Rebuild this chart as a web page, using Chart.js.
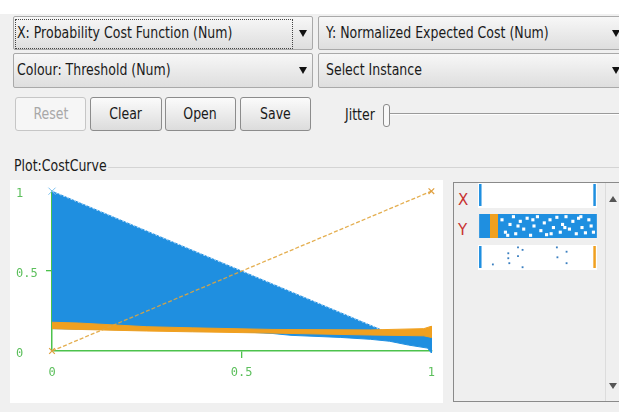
<!DOCTYPE html>
<html>
<head>
<meta charset="utf-8">
<script src="https://cdn.jsdelivr.net/npm/chart.js@4"></script>
<style>
  body { margin: 0; width: 619px; height: 412px; overflow: hidden; background: #f0f0f0;
         font-family: "DejaVu Sans", sans-serif; font-size: 15px; color: #1a1a1a; }
  .abs { position: absolute; }
  .top { left: 0; top: 0; width: 619px; height: 14px; background: #fff; }
  .combo { position: absolute; height: 34px; box-sizing: border-box; border: 1px solid #a9a9a9; border-radius: 2px;
           background: linear-gradient(#f7f7f7, #dedede); line-height: 32px; padding-left: 3px; white-space: nowrap; overflow: hidden; }
  .narrow { display: inline-block; transform: scaleX(0.835); transform-origin: left center; }
  .btn .narrow { transform-origin: center center; }
  .focus { position: absolute; border: 1px dotted #444; }
  .arrow { position: absolute; width: 0; height: 0; border-left: 4px solid transparent; border-right: 4px solid transparent; border-top: 7px solid #111; }
  .btn { position: absolute; top: 97px; height: 34px; box-sizing: border-box; border: 1px solid #8c8c8c; border-radius: 3px;
         background: linear-gradient(#fbfbfb, #dcdcdc); text-align: center; line-height: 32px; }
  .btn.off { color: #a8a8a8; border-color: #c6c6c6; background: #f6f6f6; }
</style>
</head>
<body>
<div class="abs top"></div>

<div class="combo" style="left:13px; top:16px; width:300px;"><span class="narrow">X: Probability Cost Function (Num)</span></div>
<div class="focus" style="left:15px; top:19px; width:276px; height:28px;"></div>
<div class="arrow" style="left:299px; top:30px;"></div>
<div class="combo" style="left:318px; top:16px; width:310px;"><span class="narrow">&nbsp;Y: Normalized Expected Cost (Num)</span></div>
<div class="arrow" style="left:612px; top:30px;"></div>

<div class="combo" style="left:13px; top:53px; width:300px; height:35px;"><span class="narrow">Colour: Threshold (Num)</span></div>
<div class="arrow" style="left:299px; top:67px;"></div>
<div class="combo" style="left:318px; top:53px; width:310px; height:35px;"><span class="narrow">&nbsp;Select Instance</span></div>
<div class="arrow" style="left:612px; top:67px;"></div>

<div class="btn off" style="left:15px; width:71px;"><span class="narrow">Reset</span></div>
<div class="btn" style="left:90px; width:72px;"><span class="narrow">Clear</span></div>
<div class="btn" style="left:165px; width:71px;"><span class="narrow">Open</span></div>
<div class="btn" style="left:240px; width:71px;"><span class="narrow">Save</span></div>

<div class="abs" style="left:345px; top:105px; line-height:20px;"><span class="narrow">Jitter</span></div>
<div class="abs" style="left:389px; top:113px; width:240px; height:1px; background:#9a9a9a;"></div>
<div class="abs" style="left:389px; top:114px; width:240px; height:1px; background:#fdfdfd;"></div>
<div class="abs" style="left:383px; top:104px; width:5px; height:21px; border:1px solid #8a8a8a; border-radius:3px; background:#f8f8f8;"></div>

<div class="abs" style="left:14px; top:157px; font-size:15px; line-height:18px;"><span class="narrow">Plot:CostCurve</span></div>
<div class="abs" style="left:108px; top:167px; width:520px; height:1px; background:#d4d4d4;"></div>

<div class="abs" style="left:10px; top:180px; width:433px; height:223px; background:#fff;"></div>
<canvas id="costCurve" class="abs" style="left:10px; top:180px;" width="433" height="223"></canvas>

<div class="abs" style="left:453px; top:182px; width:180px; height:220px; box-sizing:border-box; border:1px solid #8a8a8a; background:#efefef;"></div>
<div class="abs" style="left:605px; top:183px; width:1px; height:218px; background:#dcdcdc;"></div>
<div class="abs" style="left:609px; top:196px; width:0; height:0; border-left:4px solid transparent; border-right:4px solid transparent; border-bottom:6px solid #555;"></div>
<div class="abs" style="left:609px; top:383px; width:0; height:0; border-left:4px solid transparent; border-right:4px solid transparent; border-top:6px solid #555;"></div>
<div class="abs" style="left:458px; top:190px; color:#c83232; font-size:15px; line-height:20px;">X</div>
<div class="abs" style="left:458px; top:220px; color:#c83232; font-size:15px; line-height:20px;">Y</div>
<div class="abs" style="left:478px; top:183px; width:119px; height:25px; background:#fff;"></div>
<div class="abs" style="left:478px; top:245px; width:119px; height:25px; background:#fff;"></div>
<canvas id="attrStrips" class="abs" style="left:478px; top:183px;" width="120" height="88"></canvas>

<script>
// colours used by Weka for the threshold colour map
const BLUE = "#1f8fe0";
const ORANGE = "#f0a020";
const GREEN = "#4cc24c";

// cost curve region of the low-threshold lines (blue): upper edge then lower envelope
const blueX = [0, 0.88, 1, 1, 0.99, 0.94, 0.89, 0.84, 0.76, 0.63, 0.58, 0.5, 0.25, 0];
const blueY = [1, 0.12, 0.12, -0.012, 0.018, 0.037, 0.061, 0.073, 0.085, 0.098, 0.11, 0.12, 0.13, 0.14];

// the band of high-threshold lines (orange)
const orangeX = [0, 0.07, 0.25, 0.37, 0.58, 0.84, 0.98, 1, 1, 0.98, 0.84, 0.58, 0.37, 0.25, 0.07, 0];
const orangeY = [0.18, 0.175, 0.152, 0.145, 0.135, 0.132, 0.14, 0.155, 0.085, 0.095, 0.1, 0.112, 0.12, 0.125, 0.135, 0.14];

// the single line from (0,0) to (1,1)
const diagX = [0, 1];
const diagY = [0, 1];

// dotted line along the top of the blue region
const edgeX = [0, 0.88];
const edgeY = [1, 0.12];

const tickValues = [0, 0.5, 1];

function pts(xs, ys) {
  return xs.map((x, i) => ({ x: x, y: ys[i] }));
}

const monoFont = { family: "DejaVu Sans Mono", size: 12 };

new Chart(document.getElementById("costCurve"), {
  type: "scatter",
  data: {
    datasets: [
      {
        data: pts(blueX, blueY), showLine: true, fill: "shape",
        backgroundColor: BLUE, borderColor: BLUE, borderWidth: 1, pointRadius: 0, order: 5, clip: false
      },
      {
        data: pts(edgeX, edgeY), showLine: true, borderColor: "rgba(215,235,255,0.85)",
        borderDash: [2, 2], borderWidth: 1, pointRadius: [5, 0], pointStyle: "crossRot",
        pointBorderColor: "#7cc0f0", order: 4, clip: false
      },
      {
        data: pts(orangeX, orangeY), showLine: true, fill: "shape",
        backgroundColor: ORANGE, borderColor: ORANGE, borderWidth: 1, pointRadius: 0, order: 3, clip: false
      },
      {
        data: pts(diagX, diagY), showLine: true, borderColor: "rgba(225,165,60,0.9)",
        borderDash: [4, 2], borderWidth: 1.3, pointRadius: 4, pointStyle: "crossRot",
        pointBorderColor: "#e0a040", pointBorderWidth: 1.2, order: 2, clip: false
      }
    ]
  },
  options: {
    responsive: false,
    animation: false,
    layout: { autoPadding: false, padding: { left: 6, top: 7, right: 11, bottom: 0 } },
    plugins: { legend: { display: false }, tooltip: { enabled: false } },
    scales: {
      x: {
        type: "linear", min: 0, max: 1,
        afterFit: (s) => { s.height = 52; },
        afterBuildTicks: (s) => { s.ticks = tickValues.map(v => ({ value: v })); },
        ticks: { color: "#5cbf5c", font: monoFont, padding: 8, maxRotation: 0, callback: (v) => String(v) },
        grid: {
          drawOnChartArea: false, tickLength: 7, lineWidth: 1.3,
          color: (c) => (c.tick && c.tick.value === 0.5 ? GREEN : "rgba(0,0,0,0)")
        },
        border: { color: GREEN, width: 1.5 }
      },
      y: {
        type: "linear", min: 0, max: 1,
        afterFit: (s) => { s.width = 36; },
        afterBuildTicks: (s) => { s.ticks = tickValues.map(v => ({ value: v })); },
        ticks: { color: "#5cbf5c", font: monoFont, padding: 4, crossAlign: "far", labelOffset: 3, callback: (v) => String(v) },
        grid: {
          drawOnChartArea: false, tickLength: 6, lineWidth: 1.3,
          color: (c) => (c.tick && c.tick.value === 0.5 ? GREEN : "rgba(0,0,0,0)")
        },
        border: { color: GREEN, width: 1.5 }
      }
    }
  }
});

// attribute strips on the right: row 2 = X, row 1 = Y, row 0 = Threshold
const stripEndsX = [0, 1];
const yGapX = [0.19, 0.22, 0.26, 0.29, 0.31, 0.35, 0.38, 0.41, 0.44, 0.47, 0.5, 0.53, 0.56, 0.58,
               0.61, 0.64, 0.67, 0.7, 0.72, 0.75, 0.78, 0.81, 0.84, 0.86, 0.89, 0.92, 0.95, 0.97,
               0.24, 0.33, 0.46, 0.62, 0.74, 0.88, 0.99];
const yGapY = [1.2, 0.8, 1.05, 1.3, 0.75, 1.15, 0.9, 1.25, 0.7, 1.0, 1.3, 0.85, 1.1, 0.72,
               1.2, 0.95, 1.28, 0.8, 1.05, 1.3, 0.9, 1.15, 0.75, 1.25, 0.95, 0.78, 1.2, 1.0,
               0.7, 1.0, 1.2, 0.75, 0.95, 1.3, 0.8];
const thrDotsX = [0.11, 0.245, 0.245, 0.254, 0.33, 0.33, 0.37, 0.37, 0.67, 0.675, 0.755, 0.755];
const thrDotsY = [-0.24, 0.12, -0.04, -0.2, 0.31, 0.03, 0.23, -0.33, 0.31, -0.01, 0.17, -0.2];

new Chart(document.getElementById("attrStrips"), {
  type: "scatter",
  data: {
    datasets: [
      { data: pts(thrDotsX, thrDotsY), pointStyle: "rect", pointRadius: 1.3, backgroundColor: "#3a7fc0", borderWidth: 0, order: 1, clip: false },
      { data: pts(yGapX, yGapY), pointStyle: "rect", pointRadius: 2.2, backgroundColor: "#ffffff", borderWidth: 0, order: 2, clip: false },
      { data: pts([0.085, 0.155], [1, 1]), showLine: true, borderColor: ORANGE, borderWidth: 24, pointRadius: 0, order: 3, clip: false },
      { data: pts([-0.01, 1.02], [1, 1]), showLine: true, borderColor: BLUE, borderWidth: 24, pointRadius: 0, order: 4, clip: false },
      { data: pts(stripEndsX, [2, 2]), pointStyle: "line", rotation: 90, pointRadius: 11, borderColor: BLUE, borderWidth: 2.5, order: 5, clip: false },
      { data: pts([0], [0]), pointStyle: "line", rotation: 90, pointRadius: 11, borderColor: BLUE, borderWidth: 2.5, order: 6, clip: false },
      { data: pts([1], [0]), pointStyle: "line", rotation: 90, pointRadius: 11, borderColor: ORANGE, borderWidth: 2.5, order: 7, clip: false }
    ]
  },
  options: {
    responsive: false,
    animation: false,
    layout: { autoPadding: false, padding: 0 },
    plugins: { legend: { display: false }, tooltip: { enabled: false } },
    scales: {
      x: { type: "linear", min: -0.02, max: 1.03, display: false },
      y: { type: "linear", min: -0.452, max: 2.387, display: false }
    }
  }
});
</script>
</body>
</html>
